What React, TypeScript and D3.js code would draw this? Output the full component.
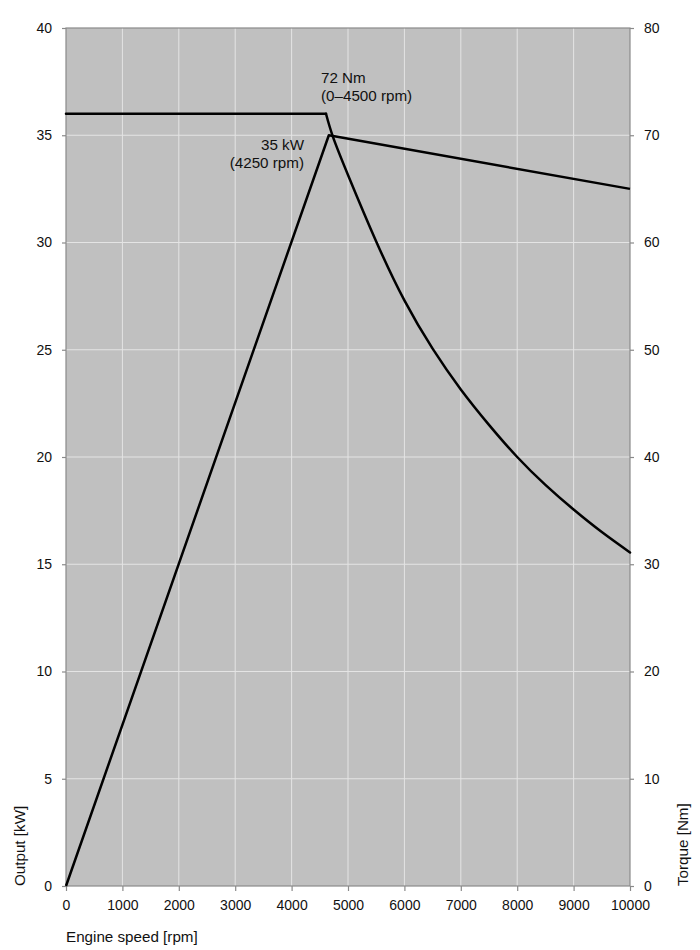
import React, { useEffect, useRef } from 'react';
import * as d3 from 'd3';

// engine speed (rpm) and readings taken off the chart
const powerRpm = [0, 4660, 10000];
const powerKw = [0, 35, 32.5];

const torqueRpm = [0, 4610, 4730, 5000, 5500, 6000, 6500, 7000, 7500, 8000, 8500, 9000, 9500, 10000];
const torqueNm = [72, 72, 69.9, 66.3, 60.1, 54.6, 50.1, 46.3, 43.0, 40.0, 37.4, 35.1, 33.0, 31.1];

const xTicks = [0, 1000, 2000, 3000, 4000, 5000, 6000, 7000, 8000, 9000, 10000];
const kwTicks = [0, 5, 10, 15, 20, 25, 30, 35, 40];
const nmTicks = [0, 10, 20, 30, 40, 50, 60, 70, 80];

const W = 700;
const H = 950;
const margin = { top: 28, right: 70, bottom: 64, left: 66 };
const FONT = '"Liberation Sans", Arial, sans-serif';
const LABEL_SIZE = '15.2px';

const App: React.FC = () => {
  const svgRef = useRef<SVGSVGElement>(null);

  useEffect(() => {
    if (!svgRef.current) return;
    const svg = d3.select(svgRef.current);
    svg.selectAll('*').remove();

    const x0 = margin.left, x1 = W - margin.right;
    const y0 = H - margin.bottom, y1 = margin.top;

    const x = d3.scaleLinear().domain([0, 10000]).range([x0, x1]);
    const yKw = d3.scaleLinear().domain([0, 40]).range([y0, y1]);
    const yNm = d3.scaleLinear().domain([0, 80]).range([y0, y1]);

    // plot background
    svg.append('rect')
      .attr('x', x0).attr('y', y1)
      .attr('width', x1 - x0).attr('height', y0 - y1)
      .attr('fill', '#c0c0c0');

    // grid
    const grid = svg.append('g').attr('stroke', '#e4e4e4').attr('stroke-width', 1);
    xTicks.slice(1, -1).forEach(t => {
      grid.append('line').attr('x1', x(t)).attr('x2', x(t)).attr('y1', y1).attr('y2', y0);
    });
    kwTicks.slice(1, -1).forEach(t => {
      grid.append('line').attr('x1', x0).attr('x2', x1).attr('y1', yKw(t)).attr('y2', yKw(t));
    });

    // frame
    svg.append('rect')
      .attr('x', x0).attr('y', y1)
      .attr('width', x1 - x0).attr('height', y0 - y1)
      .attr('fill', 'none').attr('stroke', '#8a8a8a').attr('stroke-width', 1.2);

    const styleAxis = (g: d3.Selection<SVGGElement, unknown, null, undefined>) => {
      g.select('.domain').remove();
      g.selectAll('.tick line').attr('stroke', '#8a8a8a').attr('stroke-width', 1.2);
      g.selectAll('.tick text')
        .attr('fill', '#111')
        .style('font-family', FONT)
        .style('font-size', '14px');
    };

    svg.append('g')
      .attr('transform', `translate(0,${y0})`)
      .call(d3.axisBottom(x).tickValues(xTicks).tickFormat(d3.format('d')).tickSize(5).tickPadding(9))
      .call(styleAxis);

    svg.append('g')
      .attr('transform', `translate(${x0},0)`)
      .call(d3.axisLeft(yKw).tickValues(kwTicks).tickSize(4).tickPadding(10))
      .call(styleAxis);

    svg.append('g')
      .attr('transform', `translate(${x1},0)`)
      .call(d3.axisRight(yNm).tickValues(nmTicks).tickSize(4).tickPadding(10))
      .call(styleAxis);

    // curves
    const powerLine = d3.line<number>().x((_, i) => x(powerRpm[i])).y(d => yKw(d));
    svg.append('path')
      .attr('d', powerLine(powerKw))
      .attr('fill', 'none').attr('stroke', '#000').attr('stroke-width', 2.5)
      .attr('stroke-linejoin', 'round');

    // flat torque plateau, then the falling branch drawn smooth from its corner
    const knee = 1;
    const flatLine = d3.line<number>().x((_, i) => x(torqueRpm[i])).y(d => yNm(d));
    const fallLine = d3.line<number>()
      .x((_, i) => x(torqueRpm[i + knee]))
      .y(d => yNm(d))
      .curve(d3.curveNatural);
    svg.append('path')
      .attr('d', flatLine(torqueNm.slice(0, knee + 1)))
      .attr('fill', 'none').attr('stroke', '#000').attr('stroke-width', 2.5)
      .attr('stroke-linecap', 'round');
    svg.append('path')
      .attr('d', fallLine(torqueNm.slice(knee)))
      .attr('fill', 'none').attr('stroke', '#000').attr('stroke-width', 2.5)
      .attr('stroke-linecap', 'round');

    // annotations
    const note = (tx: number, ty: number, s: string, anchor: string) =>
      svg.append('text')
        .attr('x', tx).attr('y', ty)
        .attr('text-anchor', anchor)
        .style('font-family', FONT).style('font-size', LABEL_SIZE)
        .attr('fill', '#111')
        .text(s);
    note(321, 83, '72 Nm', 'start');
    note(321, 101, '(0–4500 rpm)', 'start');
    note(304, 150, '35 kW', 'end');
    note(304, 168, '(4250 rpm)', 'end');

    // axis titles
    svg.append('text')
      .attr('x', x0).attr('y', 942)
      .style('font-family', FONT).style('font-size', LABEL_SIZE)
      .attr('fill', '#111')
      .text('Engine speed [rpm]');

    svg.append('text')
      .attr('transform', `translate(25,${y0}) rotate(-90)`)
      .style('font-family', FONT).style('font-size', LABEL_SIZE)
      .attr('fill', '#111')
      .text('Output [kW]');

    svg.append('text')
      .attr('transform', `translate(688,${y0}) rotate(-90)`)
      .style('font-family', FONT).style('font-size', LABEL_SIZE)
      .attr('fill', '#111')
      .text('Torque [Nm]');
  }, []);

  return (
    <svg
      ref={svgRef}
      width={W}
      height={H}
      style={{ position: 'absolute', left: 0, top: 0, background: '#fff' }}
    />
  );
};

export default App;
